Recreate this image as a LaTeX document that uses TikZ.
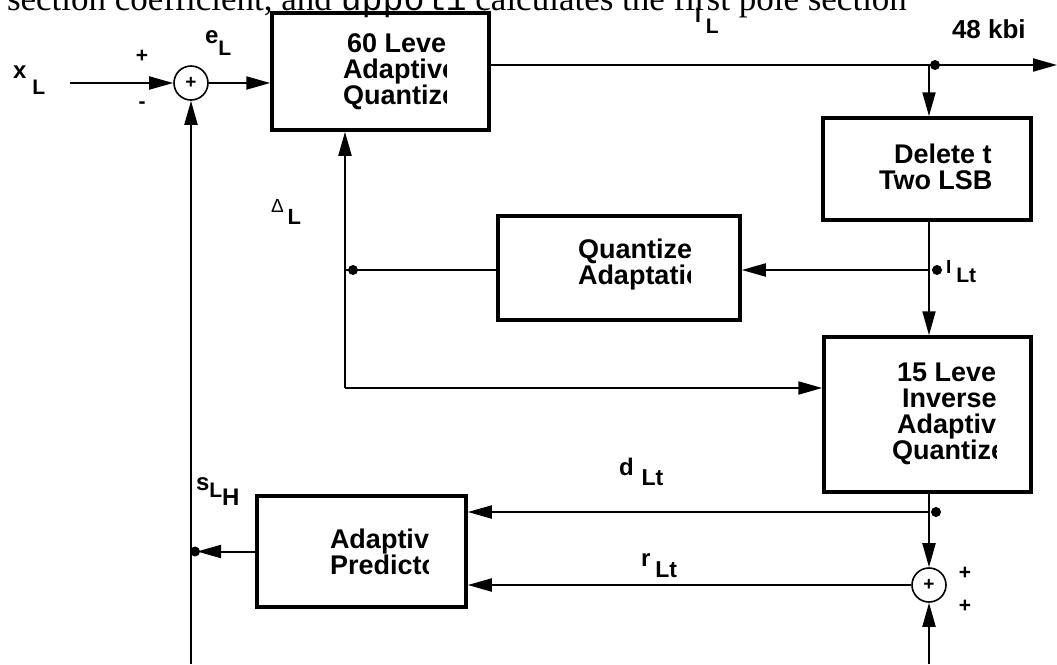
\documentclass[tikz,border=0pt]{standalone}
\usepackage{fontspec}
\setmainfont{Liberation Sans}
\newfontfamily\serifbody{Liberation Serif}
\newfontfamily\monobody{Liberation Mono}
\usetikzlibrary{arrows.meta}

% raised letter in front of a subscript
\newcommand{\sigl}[3]{\raisebox{#1}{\fontsize{24}{24}\selectfont #2}#3}

\begin{document}
\begin{tikzpicture}
  [x=1pt,y=-1pt,line width=2pt,>={Triangle[length=24pt,width=13pt]},
   blk/.style={draw,line width=3.5pt,inner sep=0pt},
   blktxt/.style={font=\bfseries\fontsize{27}{26}\selectfont,align=left,inner sep=0pt,anchor=west},
   sum/.style={circle,draw,line width=1.6pt,minimum size=34pt,inner sep=0pt,font=\bfseries\fontsize{19}{19}\selectfont},
   dot/.style={circle,fill,inner sep=0pt,minimum size=10pt},
   lbl/.style={font=\bfseries\fontsize{21}{21}\selectfont,inner sep=0pt,anchor=base west}]
  \clip (0,0) rectangle (1057,664);

  \node[anchor=base west,inner sep=0pt,font=\serifbody\fontsize{35}{35}\selectfont] (caption) at (6,10)
    {section coefficient, and {\monobody uppol1} calculates the first pole section};

  \node[blk,minimum width=217pt,minimum height=117pt] (quant)  at (380.5,71.5) {};
  \node[blk,minimum width=208pt,minimum height=102pt] (delb)   at (927,169) {};
  \node[blk,minimum width=242pt,minimum height=104pt] (qadapt) at (619,268) {};
  \node[blk,minimum width=207pt,minimum height=155pt] (invq)   at (927.5,414.5) {};
  \node[blk,minimum width=209pt,minimum height=111pt] (pred)   at (361.5,551.5) {};
  \node[sum] (sumA) at (191,83) {+};
  \node[sum] (sumB) at (929,585) {+};

  % box texts, cut off at the right
  \begin{scope}
    \clip (300,13) rectangle (446,130);
    \node[blktxt] (quanttxt) at (342,71) {\hspace*{4pt}60 Level\\Adaptive\\Quantizer};
  \end{scope}
  \begin{scope}
    \clip (850,118) rectangle (992,220);
    \node[blktxt] (delbtxt) at (878,167) {\hspace*{15pt}Delete the\\Two LSBs};
  \end{scope}
  \begin{scope}
    \clip (540,216) rectangle (690,320);
    \node[blktxt] (qadapttxt) at (577,265) {Quantizer\\Adaptation};
  \end{scope}
  \begin{scope}
    \clip (860,337) rectangle (996,492);
    \node[blktxt] (invqtxt) at (891,413) {\hspace*{5pt}15 Level\\\hspace*{10pt}Inverse\\\hspace*{5pt}Adaptive\\Quantizer};
  \end{scope}
  \begin{scope}
    \clip (290,496) rectangle (428,607);
    \node[blktxt] (predtxt) at (329,552) {Adaptive\\Predictor};
  \end{scope}

  \coordinate (xin)  at (70,83);
  \coordinate (qout) at (489,65);
  \coordinate (bout) at (1057,65);
  \coordinate (tap1) at (929,65);
  \coordinate (tap2) at (929,270);
  \coordinate (tap3) at (929,512);
  \coordinate (dcor) at (345,388);
  \coordinate (sout) at (197,551.5);
  \coordinate (bin1) at (191,664);
  \coordinate (bin2) at (929,664);

  \draw[->] (xin) -- (sumA.west);
  \draw[->] (sumA.east) -- (sumA.east -| quant.west);
  \draw[->] (qout) -- (bout);
  \draw[->] (tap1) -- (tap1 |- delb.north);
  \draw[->] (delb.south -| tap1) -- (invq.north -| tap1);
  \draw[->] (tap2) -- (tap2 -| qadapt.east);
  \draw (qadapt.west |- tap2) -- (tap2 -| dcor);
  \draw[->] (dcor) -- (dcor |- quant.south);
  \draw[->] (dcor) -- (dcor -| invq.west);
  \draw[->] (invq.south -| tap1) -- (sumB.north);
  \draw[->] (tap3) -- (tap3 -| pred.east);
  \draw[->] (sumB.west) -- (sumB.west -| pred.east);
  \draw[->] (bin2) -- (sumB.south);
  \draw[->] (bin1) -- (sumA.south);
  \draw[->] (pred.west) -- (sout);

  \foreach \n/\x/\y in {d1/935/65,d2/937/270,d3/353/270,d4/936/512,d5/195/551.5}
    \node[dot] (\n) at (\x,\y) {};

  % signal labels
  \node[lbl] (xl)   at (12,94)  {\sigl{16pt}{x\hspace{6pt}}{L}};
  \node[lbl] (el)   at (204,55) {\sigl{12pt}{e}{L}};
  \node[lbl] (il)   at (694,33) {\raisebox{11pt}{\fontsize{21}{21}\selectfont I}\hspace{5pt}L};
  \node[lbl,font=\bfseries\fontsize{26}{26}\selectfont] (rate) at (951,38) {48 kbi};
  \node[lbl,font=\bfseries\fontsize{22}{22}\selectfont] (dl) at (270,224) {\raisebox{12pt}{\fontsize{19}{19}\selectfont\mdseries Δ}\hspace{4pt}L};
  \node[lbl] (ilt)  at (945,282) {\raisebox{9pt}{\fontsize{19}{19}\selectfont I}\hspace{5pt}Lt};
  \node[lbl,font=\bfseries\fontsize{23}{23}\selectfont] (dlt) at (618,485) {\sigl{10pt}{d\hspace{8pt}}{Lt}};
  \node[lbl,font=\bfseries\fontsize{23}{23}\selectfont] (rlt) at (640,577) {\sigl{11pt}{r\hspace{5pt}}{Lt}};
  \node[lbl] (slh)  at (195,505) {\raisebox{15pt}{\fontsize{24}{24}\selectfont s}\raisebox{8pt}{L}{\fontsize{24}{24}\selectfont H}};

  \node[lbl,anchor=center] (pa1) at (142,56)  {+};
  \node[lbl,anchor=center] (ma1) at (142,105) {-};
  \node[lbl,anchor=center] (pb1) at (965,573) {+};
  \node[lbl,anchor=center] (pb2) at (965,606) {+};
\end{tikzpicture}
\end{document}
